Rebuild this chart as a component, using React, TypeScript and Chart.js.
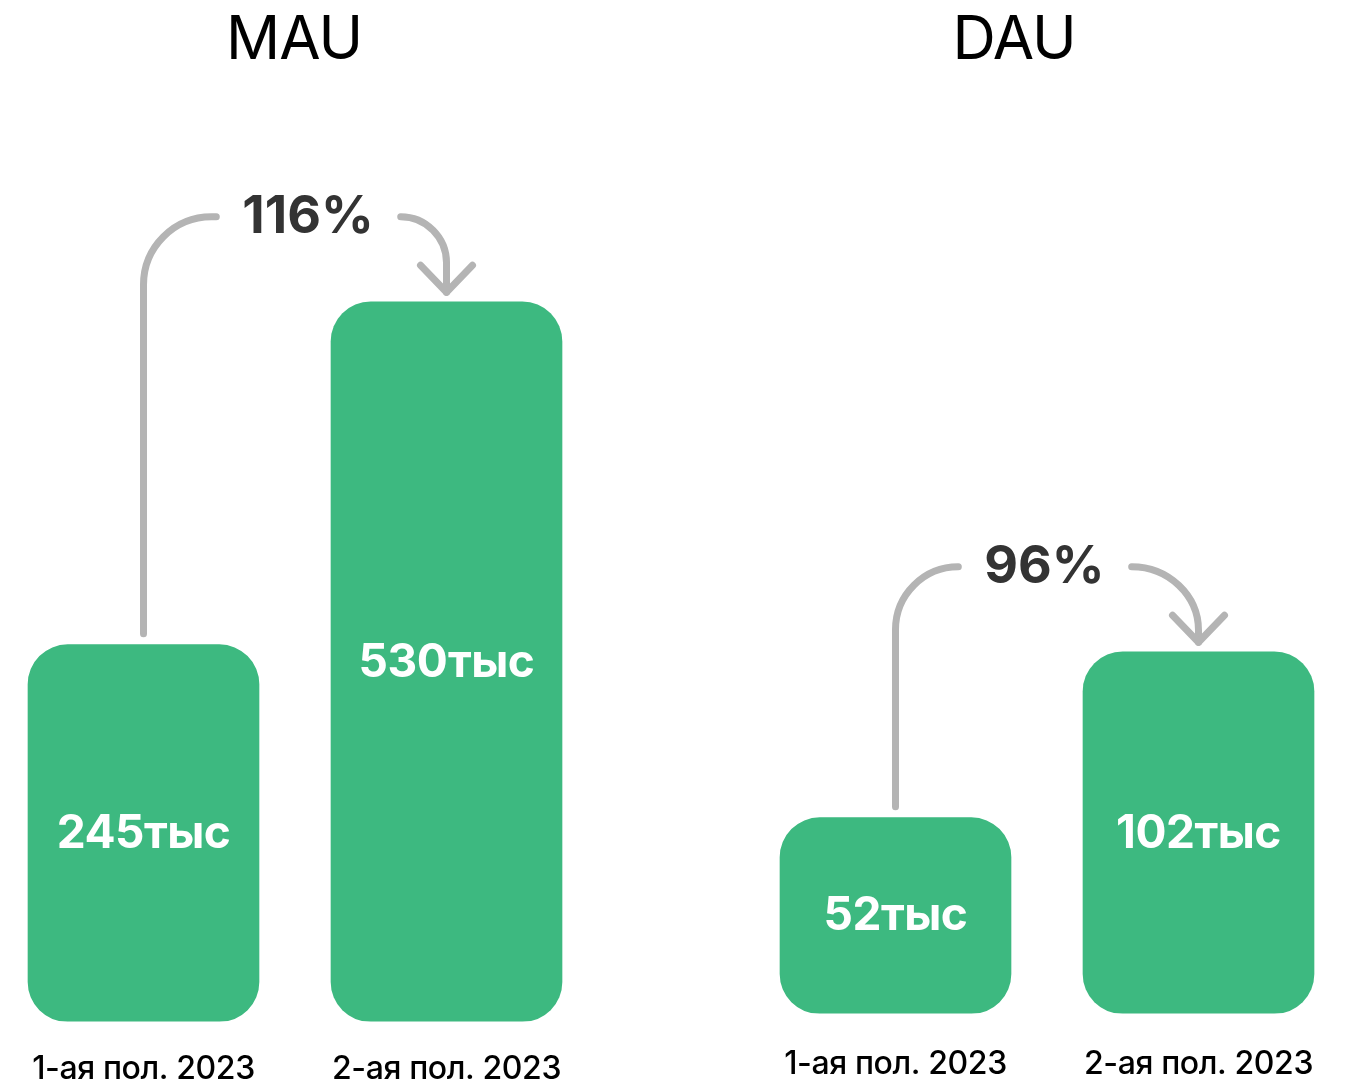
import React, { useEffect, useRef } from 'react';
import Chart from 'chart.js/auto';

// ---- data ----
const PERIODS = ['1-ая пол. 2023', '2-ая пол. 2023'];
const MAU_VALUES = [245, 530];
const DAU_VALUES = [52, 102];
const VALUE_SUFFIX = 'тыс';
const MAU_GROWTH = '116%';
const DAU_GROWTH = '96%';
const MAU_TITLE = 'MAU';
const DAU_TITLE = 'DAU';

// ---- style ----
const GREEN = '#3DB980';
const GRAY = '#B4B4B4';
const FONT = 'Inter, "Noto Sans", sans-serif';

const panelPlugin = {
  id: 'panel',
  beforeDraw(chart: any) {
    (chart.ctx as any).letterSpacing = '-0.4px';
  },
  afterDatasetsDraw(chart: any, _args: any, opts: any) {
    const ctx = chart.ctx as CanvasRenderingContext2D;
    const bars = chart.getDatasetMeta(0).data as any[];
    const values = chart.data.datasets[0].data as number[];
    ctx.save();
    ctx.textAlign = 'center';
    ctx.textBaseline = 'middle';

    // values inside bars
    (ctx as any).letterSpacing = '-0.5px';
    ctx.fillStyle = '#FFFFFF';
    ctx.font = `700 ${opts.valueFontSize}px ${FONT}`;
    bars.forEach((b, i) => {
      ctx.fillText(`${values[i]}${opts.suffix}`, b.x, (b.y + b.base) / 2 + 1);
    });

    // panel title
    (ctx as any).letterSpacing = '-1px';
    ctx.fillStyle = '#000000';
    ctx.font = `400 60px ${FONT}`;
    ctx.fillText(opts.title, opts.titleX, opts.titleY);

    // growth arrow
    (ctx as any).letterSpacing = '0px';
    const b1 = bars[0];
    const b2 = bars[1];
    const yh = b2.y - 85;
    const cx = (b1.x + b2.x) / 2 + opts.textDx;
    ctx.font = `700 52px ${FONT}`;
    ctx.fillStyle = '#333333';
    const w = ctx.measureText(opts.growth).width;
    ctx.fillText(opts.growth, cx, yh + 1);

    const leftEnd = cx - w / 2 - 26;
    const rightStart = cx + w / 2 + 27;

    ctx.strokeStyle = GRAY;
    ctx.lineWidth = 7;
    ctx.lineCap = 'round';
    ctx.lineJoin = 'round';

    // left leg
    const r = Math.min(68, leftEnd - b1.x);
    ctx.beginPath();
    ctx.moveTo(b1.x, b1.y - 11);
    ctx.lineTo(b1.x, yh + r);
    ctx.arcTo(b1.x, yh, b1.x + r, yh, r);
    ctx.lineTo(leftEnd, yh);
    ctx.stroke();

    // right leg
    const tipY = b2.y - 9.5;
    const rx = b2.x - rightStart;
    const ry = Math.min(rx, tipY - yh - 12);
    ctx.beginPath();
    ctx.moveTo(rightStart, yh);
    ctx.bezierCurveTo(rightStart + rx * 0.55, yh, b2.x, yh + ry * 0.45, b2.x, yh + ry);
    ctx.lineTo(b2.x, tipY);
    ctx.stroke();

    // arrow head
    ctx.beginPath();
    ctx.moveTo(b2.x - 26, tipY - 27);
    ctx.lineTo(b2.x, tipY);
    ctx.lineTo(b2.x + 26, tipY - 27);
    ctx.stroke();

    ctx.restore();
  },
};

type PanelProps = {
  values: number[];
  growth: string;
  title: string;
  left: number;
  width: number;
  height: number;
  yMin: number;
  yMax: number;
  titleX: number;
  textDx: number;
  tickPad: number;
};

function Panel(p: PanelProps) {
  const ref = useRef<HTMLCanvasElement | null>(null);
  useEffect(() => {
    if (!ref.current) return;
    const chart = new Chart(ref.current, {
      type: 'bar',
      data: {
        labels: PERIODS,
        datasets: [
          {
            data: p.values,
            backgroundColor: GREEN,
            borderWidth: 0,
            borderRadius: 40,
            borderSkipped: false,
            barThickness: 231,
            base: p.yMin,
          } as any,
        ],
      },
      options: {
        responsive: false,
        animation: false,
        devicePixelRatio: 1,
        layout: { padding: { top: 78, left: 0, right: 0, bottom: 0 } },
        scales: {
          x: {
            grid: { display: false, drawTicks: false },
            border: { display: false },
            ticks: {
              color: '#000000',
              padding: p.tickPad,
              maxRotation: 0,
              autoSkip: false,
              font: { family: FONT, size: 32, weight: '500' as any },
            },
          },
          y: {
            display: false,
            min: p.yMin,
            max: p.yMax,
          },
        },
        plugins: {
          legend: { display: false },
          tooltip: { enabled: false },
          title: { display: false },
          panel: {
            suffix: VALUE_SUFFIX,
            valueFontSize: 46,
            title: p.title,
            titleX: p.titleX,
            titleY: 41,
            growth: p.growth,
            textDx: p.textDx,
          },
        } as any,
      },
      plugins: [panelPlugin as any],
    });
    return () => chart.destroy();
  }, []);
  return (
    <canvas
      ref={ref}
      width={p.width}
      height={p.height}
      style={{ position: 'absolute', left: p.left, top: 0, width: p.width, height: p.height }}
    />
  );
}

export default function App() {
  return (
    <div
      style={{
        position: 'absolute',
        left: 0,
        top: 0,
        width: 1350,
        height: 1089,
        overflow: 'hidden',
        background: '#FFFFFF',
      }}
    >
      <Panel
        values={MAU_VALUES}
        growth={MAU_GROWTH}
        title={MAU_TITLE}
        left={-8}
        width={606}
        height={1118}
        yMin={-68.25}
        yMax={716}
        titleX={302}
        textDx={13}
        tickPad={29}
      />
      <Panel
        values={DAU_VALUES}
        growth={DAU_GROWTH}
        title={DAU_TITLE}
        left={744}
        width={606}
        height={1116}
        yMin={-7.04}
        yMax={274.9}
        titleX={270}
        textDx={-2.5}
        tickPad={32}
      />
    </div>
  );
}
